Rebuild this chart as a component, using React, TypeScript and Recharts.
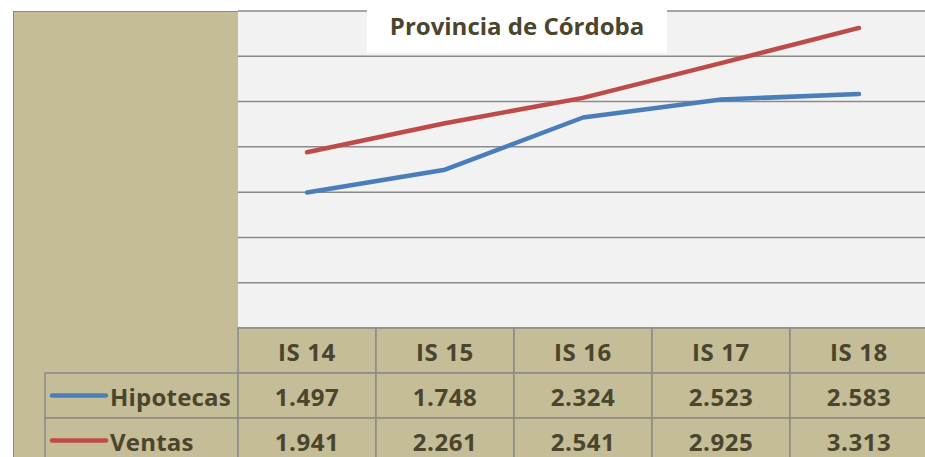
import { LineChart, Line, XAxis, YAxis, CartesianGrid } from 'recharts'

const categories = ['IS 14', 'IS 15', 'IS 16', 'IS 17', 'IS 18']
const hipotecas = [1497, 1748, 2324, 2523, 2583]
const ventas = [1941, 2261, 2541, 2925, 3313]
const yTicks = [0, 500, 1000, 1500, 2000, 2500, 3000, 3500]

const SERIES = [
  { key: 'hipotecas', name: 'Hipotecas', color: '#4a7ebb', values: hipotecas },
  { key: 'ventas', name: 'Ventas', color: '#be4b48', values: ventas },
]

const data = categories.map((label, i) => ({ label, hipotecas: hipotecas[i], ventas: ventas[i] }))

const TAN = '#c4bd97'
const RULE = '#8a8a8a'
const INK = '#4a452c'
const FONT = '"Open Sans", Lato, sans-serif'

const PLOT_BOTTOM = 328
const CELL_W = 138
const ROW_H = 45
const KEY_LEFT = 45
const PLOT_LEFT = 238

// 1497 -> "1.497" (Spanish thousands separator)
function fmt(v: number): string {
  return Math.floor(v / 1000) + '.' + String(v % 1000).padStart(3, '0')
}

const cellText = {
  fill: INK,
  fontSize: 24,
  fontWeight: 700,
  fontFamily: FONT,
  letterSpacing: 0.6,
}

function LegendColumn() {
  return (
    <g>
      {SERIES.map((s, r) => {
        const top = PLOT_BOTTOM + (r + 1) * ROW_H
        const mid = top + ROW_H / 2
        return (
          <g key={s.key}>
            <rect x={KEY_LEFT} y={top} width={PLOT_LEFT - KEY_LEFT} height={ROW_H} fill={TAN} stroke={RULE} strokeWidth={1.5} />
            <line x1={KEY_LEFT + 7} x2={KEY_LEFT + 61} y1={mid} y2={mid} stroke={s.color} strokeWidth={4.5} strokeLinecap="round" />
            <text x={KEY_LEFT + 65} y={mid + 1} dominantBaseline="central" {...cellText} letterSpacing={0.2}>
              {s.name}
            </text>
          </g>
        )
      })}
    </g>
  )
}

// Each x tick draws its column of the data table: header + one value per series.
function TableTick(props: any) {
  const { x, payload } = props
  const i = payload.index
  const left = x - CELL_W / 2
  const cells = [categories[i], ...SERIES.map((s) => fmt(s.values[i]))]
  return (
    <g>
      {i === 0 && <LegendColumn />}
      {cells.map((text, r) => (
        <g key={r}>
          <rect x={left} y={PLOT_BOTTOM + r * ROW_H} width={CELL_W} height={ROW_H} fill={TAN} stroke={RULE} strokeWidth={1.5} />
          <text x={x} y={PLOT_BOTTOM + r * ROW_H + ROW_H / 2 + 1} textAnchor="middle" dominantBaseline="central" {...cellText}>
            {text}
          </text>
        </g>
      ))}
    </g>
  )
}

export default function App() {
  return (
    <div style={{ position: 'absolute', left: 0, top: 0, width: 925, height: 457, overflow: 'hidden', background: '#fff', fontFamily: FONT }}>
      <div
        style={{
          position: 'absolute', left: 13, top: 11, width: 1000, height: 500, background: TAN,
          borderLeft: `1.5px solid ${RULE}`, borderTop: `1.5px solid ${RULE}`,
        }}
      />
      <div style={{ position: 'absolute', left: 0, top: 0 }}>
        <LineChart width={935} height={457} data={data} margin={{ top: 11, right: 7, left: PLOT_LEFT, bottom: 0 }}>
          <CartesianGrid vertical={false} fill="#f2f2f2" stroke={RULE} strokeWidth={1.5} />
          <XAxis
            dataKey="label"
            height={129}
            interval={0}
            axisLine={false}
            tickLine={false}
            padding={{ left: CELL_W / 2, right: CELL_W / 2 }}
            tick={<TableTick />}
          />
          <YAxis hide domain={[0, 3500]} ticks={yTicks} />
          {SERIES.map((s) => (
            <Line
              key={s.key}
              dataKey={s.key}
              name={s.name}
              type="linear"
              stroke={s.color}
              strokeWidth={4.5}
              strokeLinecap="round"
              strokeLinejoin="round"
              dot={false}
              isAnimationActive={false}
            />
          ))}
        </LineChart>
      </div>
      <div
        style={{
          position: 'absolute', left: 367, top: 10, width: 300, height: 43, background: '#fff',
          textAlign: 'center', lineHeight: '31px', fontSize: 24, fontWeight: 700, color: INK,
        }}
      >
        Provincia de Córdoba
      </div>
    </div>
  )
}
